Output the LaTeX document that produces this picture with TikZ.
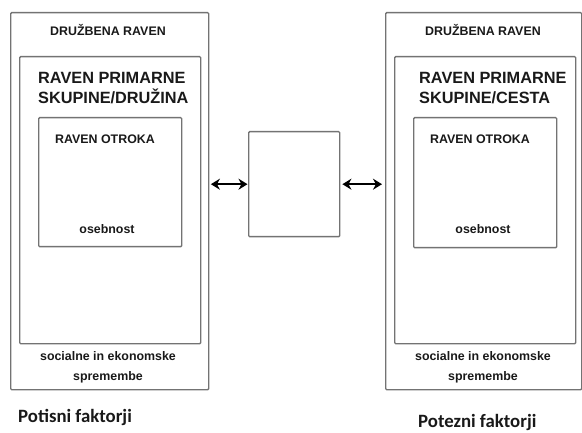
\documentclass[tikz,border=0pt]{standalone}
\usepackage{fontspec}
\setmainfont{Liberation Sans}
\newfontfamily\calfont{Carlito}
\usepackage{tikz}
\usetikzlibrary{positioning,arrows,arrows.meta}
\definecolor{boxgray}{rgb}{0.45,0.45,0.45}
\definecolor{txtgray}{rgb}{0.1,0.1,0.1}
\tikzstyle{bx}=[%
      rectangle, draw=boxgray, line width=1.4pt, fill=none, rounded corners=1pt,
      inner sep=0pt, anchor=north west
]
\tikzstyle{sm}=[%
      text=txtgray, font=\bfseries\fontsize{12.4}{20}\selectfont, inner sep=0pt, anchor=base
]
\tikzstyle{bg}=[%
      text=txtgray, font=\bfseries\fontsize{16.3}{20}\selectfont, inner sep=0pt,
      anchor=base west, align=left
]
\tikzstyle{ft}=[%
      text=txtgray, font=\calfont\bfseries\fontsize{18.8}{20}\selectfont, inner sep=0pt, anchor=base west
]
\tikzstyle{dbl}=[%
      {Stealth[length=9pt,width=11pt]}-{Stealth[length=9pt,width=11pt]}, line width=2pt, draw=black
]

\begin{document}
\begin{tikzpicture}[x=1pt, y=1pt]
    \useasboundingbox (0,0) rectangle (582,432);

    % push side
    \node[bx, minimum width=198pt, minimum height=377pt] (lo) at (10,420) {};
    \node[bx, minimum width=181pt, minimum height=287pt] (lp) at (19,376) {};
    \node[bx, minimum width=143pt, minimum height=129pt] (lc) at (38,315) {};
    \node[sm] (lodr) at (108,396.5) {DRUŽBENA RAVEN};
    \node[bg] (lpsk) at (38,328.5) {RAVEN PRIMARNE\\SKUPINE/DRUŽINA};
    \node[sm] (lcot) at (105,288.5) {RAVEN OTROKA};
    \node[sm] (lcos) at (107,198) {osebnost};
    \node[sm, align=center] (losp) at (108,52) {socialne in ekonomske\\spremembe};
    \node[ft] (lpot) at (18,10) {Potisni faktorji};

    % middle
    \node[bx, minimum width=91pt, minimum height=105pt] (mid) at (248,301) {};

    % pull side
    \node[bx, minimum width=196pt, minimum height=377pt] (ro) at (385,420) {};
    \node[bx, minimum width=181pt, minimum height=287pt] (rp) at (394,376) {};
    \node[bx, minimum width=143pt, minimum height=130pt] (rc) at (413,315) {};
    \node[sm] (rodr) at (483,396.5) {DRUŽBENA RAVEN};
    \node[bg] (rpsk) at (419,328.5) {RAVEN PRIMARNE\\SKUPINE/CESTA};
    \node[sm] (rcot) at (480,288.5) {RAVEN OTROKA};
    \node[sm] (rcos) at (483,198) {osebnost};
    \node[sm, align=center] (rosp) at (483,52) {socialne in ekonomske\\spremembe};
    \node[ft] (rpot) at (418,5) {Potezni faktorji};

    \draw[dbl, shorten <=1.5pt, shorten >=0.5pt] (mid.west -| lo.east) -- (mid.west);
    \draw[dbl, shorten <=2pt, shorten >=3pt] (mid.east) -- (mid.east -| ro.west);
  \end{tikzpicture}
\end{document}
